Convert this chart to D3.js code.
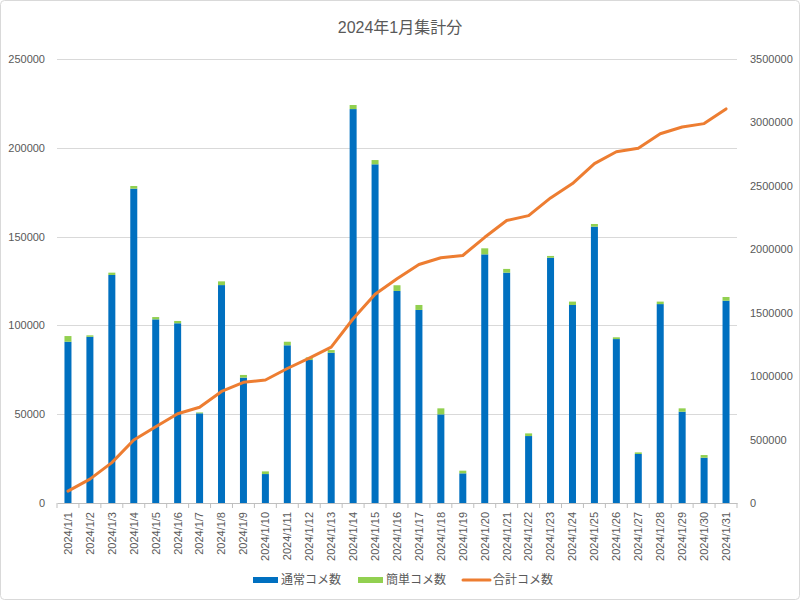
<!DOCTYPE html>
<html>
<head>
<meta charset="utf-8">
<script src="https://cdn.jsdelivr.net/npm/d3@7"></script>
<style>
  body { margin: 0; background: #fff; }
  svg { display: block; font-family: "Liberation Sans", "Noto Sans CJK JP", sans-serif; }
</style>
</head>
<body>
<svg id="drawing_region"></svg>
<script>
// data
const days = d3.range(1, 32).map(d => `2024/1/${d}`);

const normal = [90800, 93600, 128400, 177000, 103400, 101200, 50500, 122700, 70600, 16300,
  88800, 80500, 84600, 221800, 190700, 119400, 108700, 49900, 16700, 140000,
  129700, 37700, 138100, 111500, 155600, 92300, 27600, 112000, 51400, 25500, 113900];

const simple = [3200, 800, 1300, 1500, 1300, 1300, 500, 2100, 1500, 1500,
  2000, 1500, 1500, 2300, 2400, 3200, 2800, 3400, 1500, 3400,
  2100, 1500, 1000, 1900, 1500, 1000, 900, 1400, 1900, 1500, 2100];

const total = [94000, 188400, 318100, 496600, 601300, 703800, 754800, 879600, 951700, 969500,
  1060300, 1142300, 1228400, 1452500, 1645600, 1768200, 1879700, 1933000, 1951200, 2094600,
  2226400, 2265600, 2404700, 2518100, 2675200, 2768500, 2797000, 2910400, 2963700, 2990700, 3106700];

const leftTicks = [0, 50000, 100000, 150000, 200000, 250000];
const rightTicks = [0, 500000, 1000000, 1500000, 2000000, 2500000, 3000000, 3500000];
const seriesNames = ['通常コメ数', '簡単コメ数', '合計コメ数'];
const colors = ['#0070C0', '#92D050', '#ED7D31'];

const config = {
  width: 800,
  height: 600,
  margin: {top: 59, right: 63, bottom: 97, left: 57}
};

const svg = d3.select('#drawing_region')
  .attr('width', config.width)
  .attr('height', config.height);

svg.append('rect')
  .attr('x', 0.5).attr('y', 0.5)
  .attr('width', config.width - 1).attr('height', config.height - 1)
  .attr('rx', 4)
  .attr('fill', '#fff')
  .attr('stroke', '#d9d9d9');

const innerW = config.width - config.margin.left - config.margin.right;
const innerH = config.height - config.margin.top - config.margin.bottom;

const chart = svg.append('g')
  .attr('transform', `translate(${config.margin.left}, ${config.margin.top})`);

const xscale = d3.scaleBand().domain(days).range([0, innerW]).padding(0);
const yscale = d3.scaleLinear().domain([0, 250000]).range([innerH, 0]);
const y2scale = d3.scaleLinear().domain([0, 3500000]).range([innerH, 0]);

// gridlines
chart.append('g')
  .selectAll('line')
  .data(leftTicks.slice(1))
  .join('line')
  .attr('x1', 0).attr('x2', innerW)
  .attr('y1', d => Math.round(yscale(d)) + 0.5)
  .attr('y2', d => Math.round(yscale(d)) + 0.5)
  .attr('stroke', '#d9d9d9')
  .attr('stroke-width', 1);

// left axis
const yaxis = d3.axisLeft(yscale).tickValues(leftTicks).tickSize(0).tickPadding(12)
  .tickFormat(d3.format('d'));
const yg = chart.append('g').call(yaxis);
yg.select('.domain').remove();
yg.selectAll('text').attr('fill', '#595959').attr('font-size', '11px');

// right axis
const y2axis = d3.axisRight(y2scale).tickValues(rightTicks).tickSize(0).tickPadding(13)
  .tickFormat(d3.format('d'));
const y2g = chart.append('g').attr('transform', `translate(${innerW}, 0)`).call(y2axis);
y2g.select('.domain').remove();
y2g.selectAll('text').attr('fill', '#595959').attr('font-size', '11px');

// bars
const barW = 7;
const stacked = d3.stack().keys([0, 1]).value((d, k) => d[k])(normal.map((v, i) => [v, simple[i]]));
chart.append('g')
  .selectAll('g')
  .data(stacked)
  .join('g')
  .attr('fill', (d, i) => colors[i])
  .selectAll('rect')
  .data(d => d)
  .join('rect')
  .attr('x', (d, i) => xscale(days[i]) + xscale.bandwidth() / 2 - barW / 2)
  .attr('y', d => yscale(d[1]))
  .attr('width', barW)
  .attr('height', d => yscale(d[0]) - yscale(d[1]));

// x axis
const xaxis = d3.axisBottom(xscale).tickSize(0).tickPadding(6);
const xg = chart.append('g').attr('transform', `translate(0, ${innerH})`).call(xaxis);
xg.select('.domain').attr('stroke', '#bfbfbf');
xg.selectAll('text')
  .attr('fill', '#595959')
  .attr('font-size', '11px')
  .attr('text-anchor', 'end')
  .attr('dy', '0.35em')
  .attr('transform', 'translate(0, 9) rotate(-90)')
  .attr('x', 0).attr('y', 0);
xg.append('g')
  .selectAll('line')
  .data(days.concat(['end']))
  .join('line')
  .attr('x1', (d, i) => i * xscale.step())
  .attr('x2', (d, i) => i * xscale.step())
  .attr('y1', 0).attr('y2', 5)
  .attr('stroke', '#bfbfbf');

// cumulative line
const line = d3.line()
  .x((d, i) => xscale(days[i]) + xscale.bandwidth() / 2)
  .y(d => y2scale(d));
chart.append('path')
  .datum(total)
  .attr('fill', 'none')
  .attr('stroke', colors[2])
  .attr('stroke-width', 3)
  .attr('stroke-linejoin', 'round')
  .attr('stroke-linecap', 'round')
  .attr('d', line);

// title
svg.append('text')
  .attr('x', config.width / 2)
  .attr('y', 33)
  .attr('text-anchor', 'middle')
  .attr('fill', '#595959')
  .attr('font-size', '16px')
  .text('2024年1月集計分');

// legend
const legend = svg.append('g').attr('transform', 'translate(253, 580)');
const legendX = [0, 105, 210];
seriesNames.forEach((name, i) => {
  const g = legend.append('g').attr('transform', `translate(${legendX[i]}, 0)`);
  if (i < 2) {
    g.append('rect').attr('x', 0).attr('y', -3).attr('width', 25).attr('height', 6).attr('fill', colors[i]);
  } else {
    g.append('line').attr('x1', 0).attr('x2', 27).attr('y1', 0).attr('y2', 0)
      .attr('stroke', colors[i]).attr('stroke-width', 3).attr('stroke-linecap', 'round');
  }
  g.append('text')
    .attr('x', i < 2 ? 28 : 30).attr('y', 0).attr('dy', '0.35em')
    .attr('fill', '#595959').attr('font-size', '12px')
    .text(name);
});
</script>
</body>
</html>
